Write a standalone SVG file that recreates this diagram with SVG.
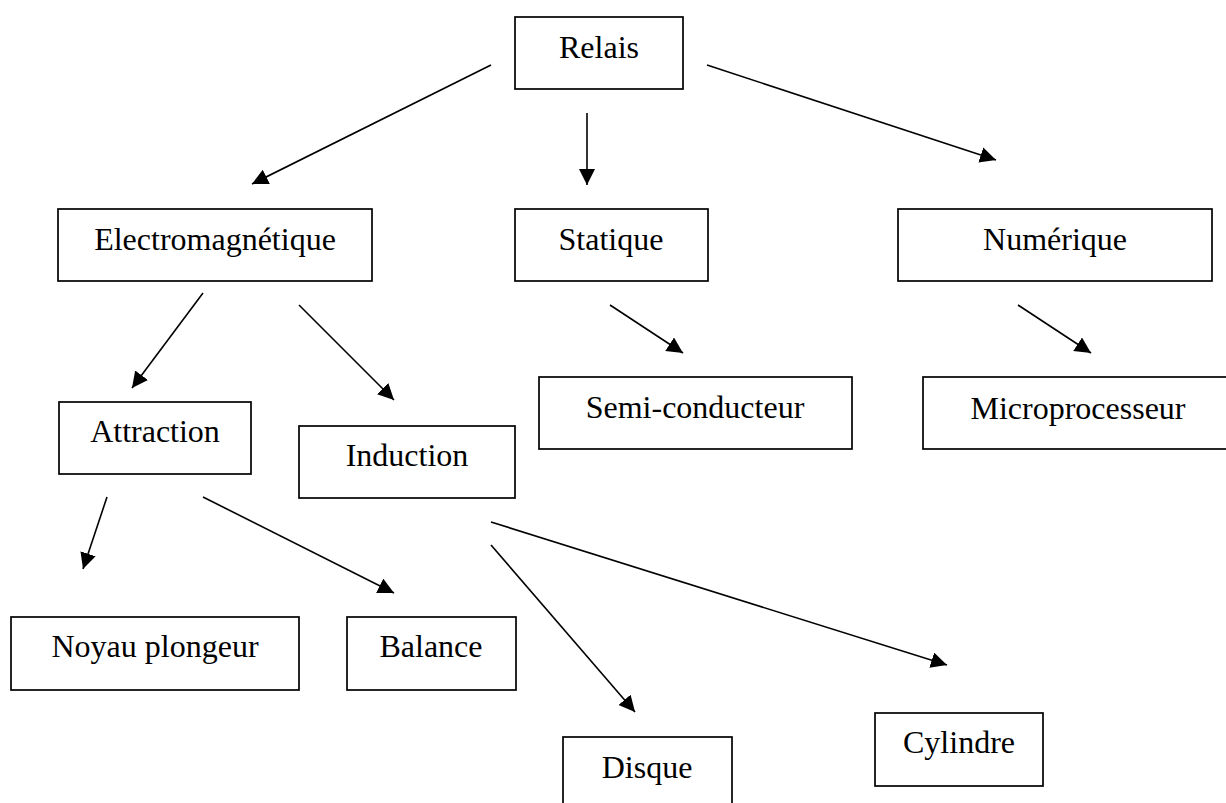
<svg xmlns="http://www.w3.org/2000/svg" width="1226" height="803" viewBox="0 0 1226 803">
<style>
rect.box{fill:#fff;stroke:#000;stroke-width:1.7}
text{font-family:"Liberation Serif","Times New Roman",serif;font-size:32px;fill:#000;text-anchor:middle}
.conn line{stroke:#000;stroke-width:1.6;marker-end:url(#ah)}
</style>
<defs>
<marker id="ah" markerUnits="userSpaceOnUse" markerWidth="18" markerHeight="18" viewBox="0 0 18 18" refX="16" refY="8" orient="auto">
<path d="M0,0 L16,8 L0,16 z" fill="#000"/>
</marker>
</defs>
<g id="n-relais"><rect class="box" x="515" y="17" width="168" height="72"/><text x="599" y="58">Relais</text></g>
<g id="n-electro"><rect class="box" x="58" y="209" width="314" height="72"/><text x="215" y="250">Electromagnétique</text></g>
<g id="n-statique"><rect class="box" x="515" y="209" width="193" height="72"/><text x="611" y="250">Statique</text></g>
<g id="n-numerique"><rect class="box" x="898" y="209" width="314" height="72"/><text x="1055" y="250">Numérique</text></g>
<g id="n-semi"><rect class="box" x="539" y="377" width="313" height="72"/><text x="695" y="418">Semi-conducteur</text></g>
<g id="n-micro"><rect class="box" x="923" y="377" width="312" height="72"/><text x="1078" y="419">Microprocesseur</text></g>
<g id="n-attraction"><rect class="box" x="59" y="402" width="192" height="72"/><text x="155" y="442">Attraction</text></g>
<g id="n-induction"><rect class="box" x="299" y="426" width="216" height="72"/><text x="407" y="466">Induction</text></g>
<g id="n-noyau"><rect class="box" x="11" y="617" width="288" height="73"/><text x="155" y="657">Noyau plongeur</text></g>
<g id="n-balance"><rect class="box" x="347" y="617" width="169" height="73"/><text x="431" y="657">Balance</text></g>
<g id="n-disque"><rect class="box" x="563" y="737" width="169" height="80"/><text x="647" y="778">Disque</text></g>
<g id="n-cylindre"><rect class="box" x="875" y="713" width="168" height="73"/><text x="959" y="753">Cylindre</text></g>
<g class="conn" id="connectors">
<line x1="491" y1="65" x2="252" y2="184"/>
<line x1="587" y1="113" x2="587" y2="185"/>
<line x1="707" y1="65" x2="996" y2="160"/>
<line x1="203" y1="293" x2="132" y2="388"/>
<line x1="299" y1="305" x2="394" y2="400"/>
<line x1="610" y1="305" x2="683" y2="353"/>
<line x1="1018" y1="305" x2="1091" y2="353"/>
<line x1="107" y1="497" x2="83" y2="569"/>
<line x1="203" y1="497" x2="394" y2="593"/>
<line x1="491" y1="545" x2="635" y2="712"/>
<line x1="491" y1="522" x2="947" y2="665"/>
</g>
</svg>
